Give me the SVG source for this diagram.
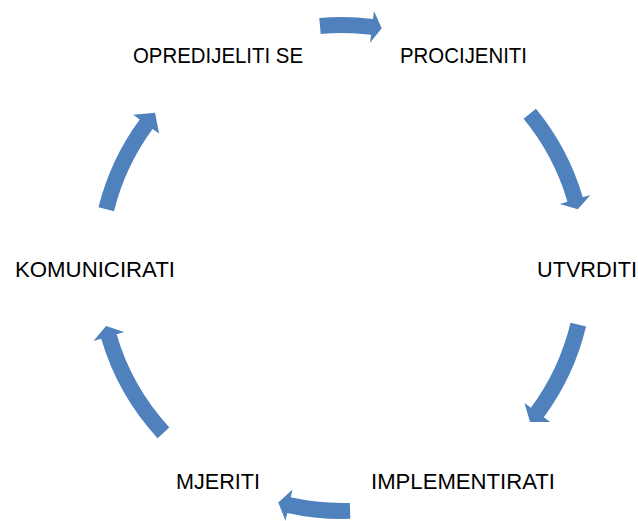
<svg xmlns="http://www.w3.org/2000/svg" width="638" height="521" viewBox="0 0 638 521">
<style>
.arr{fill:#4F81BD;stroke:none}
.lbl{font-family:"Liberation Sans",Arial,sans-serif;font-size:22px;fill:#000;text-anchor:middle}
</style>
<rect width="638" height="521" fill="#fff"/>
<g id="connectors">
<path class="arr" d="M319.26,18.03 A251,251 0 0 1 373.02,18.93 L374.01,10.99 L381.68,28.26 L370.06,42.75 L371.05,34.81 A235,235 0 0 0 320.71,33.96 Z"/>
<path class="arr" d="M535.95,108.69 A251,251 0 0 1 582.78,197.14 L590.46,194.88 L577.78,209.22 L559.76,203.92 L567.44,201.66 A235,235 0 0 0 523.58,118.85 Z"/>
<path class="arr" d="M586.07,326.58 A251,251 0 0 1 543.78,417.29 L550.21,422.05 L530.03,421.92 L524.49,403.02 L530.92,407.78 A235,235 0 0 0 570.51,322.85 Z"/>
<path class="arr" d="M350.33,518.87 A251,251 0 0 1 287.26,512.95 L285.51,520.76 L278.29,502.50 L292.49,489.53 L290.75,497.34 A235,235 0 0 0 349.80,502.88 Z"/>
<path class="arr" d="M157.54,438.23 A251,251 0 0 1 101.22,338.86 L93.54,341.12 L106.02,325.96 L124.24,332.08 L116.56,334.34 A235,235 0 0 0 169.30,427.38 Z"/>
<path class="arr" d="M98.45,207.28 A251,251 0 0 1 139.72,119.41 L133.27,114.67 L155.04,112.77 L159.06,133.62 L152.61,128.88 A235,235 0 0 0 113.98,211.15 Z"/>
</g>
<g id="node-opredijeliti"><text class="lbl" x="218" y="63" textLength="170" lengthAdjust="spacingAndGlyphs">OPREDIJELITI SE</text></g>
<g id="node-procijeniti"><text class="lbl" x="463.5" y="63" textLength="127" lengthAdjust="spacingAndGlyphs">PROCIJENITI</text></g>
<g id="node-utvrditi"><text class="lbl" x="587" y="277" textLength="100" lengthAdjust="spacingAndGlyphs">UTVRDITI</text></g>
<g id="node-implementirati"><text class="lbl" x="463" y="488.5" textLength="184" lengthAdjust="spacingAndGlyphs">IMPLEMENTIRATI</text></g>
<g id="node-mjeriti"><text class="lbl" x="218" y="488.5" textLength="84" lengthAdjust="spacingAndGlyphs">MJERITI</text></g>
<g id="node-komunicirati"><text class="lbl" x="95" y="277" textLength="160" lengthAdjust="spacingAndGlyphs">KOMUNICIRATI</text></g>
</svg>
